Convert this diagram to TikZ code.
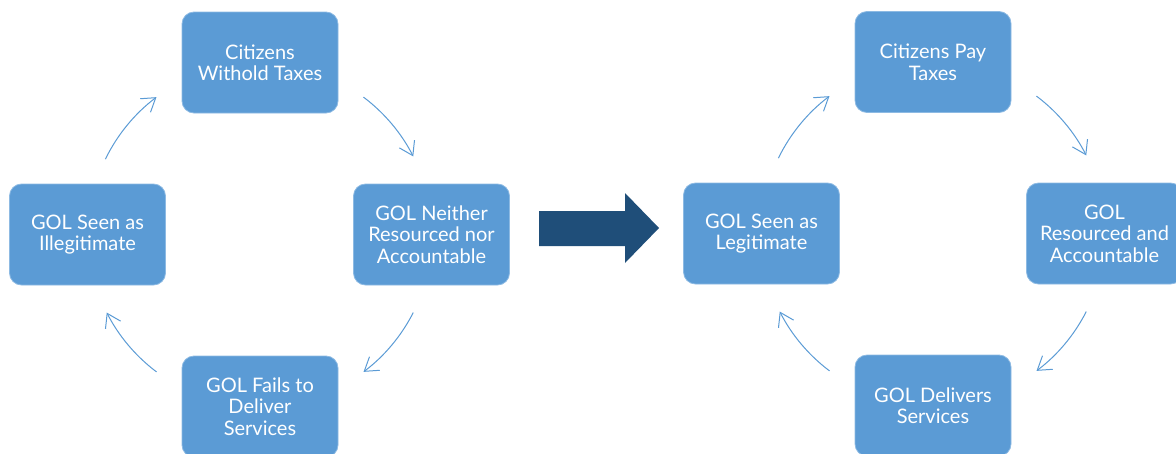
\documentclass[tikz,border=0pt]{standalone}
\usepackage{fontspec}
\setmainfont{Lato}
\usetikzlibrary{arrows.meta}
\definecolor{boxblue}{HTML}{5B9BD5}
\definecolor{boxedge}{HTML}{8DBAE3}
\definecolor{darkblue}{HTML}{1F4E79}
\begin{document}
\begin{tikzpicture}[x=1pt,y=-1pt,
  cyclebox/.style={rectangle, rounded corners=12pt, fill=boxblue, draw=boxedge,
    line width=0.8pt, minimum width=156pt, minimum height=101pt, text=white,
    align=center, inner sep=2pt, font=\fontsize{20}{21.5}\selectfont},
  cyc/.style={draw=boxblue, line width=1pt, -{Straight Barb[length=13pt,width=17pt,line width=1pt]}}]
\useasboundingbox (0,0) rectangle (1176,453);
\clip (0,0) rectangle (1176,453);
% left cycle
\coordinate (lc) at (260,234.5);
\node[cyclebox] (a1) at (260,62.5) {Citizens\\Withold Taxes};
\node[cyclebox] (a2) at (431.5,234.5) {GOL Neither\\Resourced nor\\Accountable};
\node[cyclebox] (a3) at (260,406.5) {GOL Fails to\\Deliver\\Services};
\node[cyclebox] (a4) at (87.5,234.5) {GOL Seen as\\Illegitimate};
\draw[cyc] ([shift={(-154:172)}]lc) arc[start angle=-154, end angle=-127, radius=172];
\draw[cyc] ([shift={(-53:172)}]lc) arc[start angle=-53, end angle=-27, radius=172];
\draw[cyc] ([shift={(27:172)}]lc) arc[start angle=27, end angle=53, radius=172];
\draw[cyc] ([shift={(127:172)}]lc) arc[start angle=127, end angle=153, radius=172];
% big arrow
\fill[darkblue] (539,211) -- (625,211) -- (625,193) -- (659,228) -- (625,263)
  -- (625,246) -- (539,246) -- cycle;
% right cycle
\coordinate (rc) at (933,233.5);
\node[cyclebox] (b1) at (933,62) {Citizens Pay\\Taxes};
\node[cyclebox] (b2) at (1104.5,233.5) {GOL\\Resourced and\\Accountable};
\node[cyclebox] (b3) at (933,405.5) {GOL Delivers\\Services};
\node[cyclebox] (b4) at (761.5,233.5) {GOL Seen as\\Legitimate};
\draw[cyc] ([shift={(-154:172)}]rc) arc[start angle=-154, end angle=-127, radius=172];
\draw[cyc] ([shift={(-53:172)}]rc) arc[start angle=-53, end angle=-27, radius=172];
\draw[cyc] ([shift={(27:172)}]rc) arc[start angle=27, end angle=53, radius=172];
\draw[cyc] ([shift={(127:172)}]rc) arc[start angle=127, end angle=153, radius=172];
\end{tikzpicture}
\end{document}
